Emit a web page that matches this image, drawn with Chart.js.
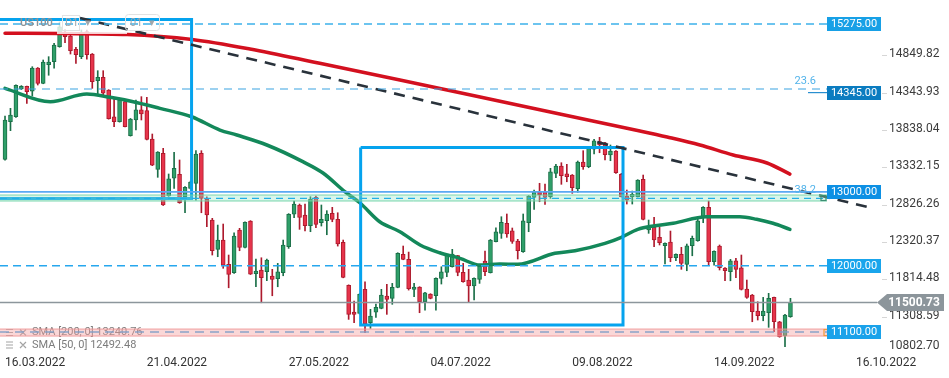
<!DOCTYPE html>
<html>
<head>
<meta charset="utf-8">
<script src="https://cdn.jsdelivr.net/npm/chart.js@4.4.0/dist/chart.umd.min.js"></script>
<style>
  html, body { margin: 0; padding: 0; background: #fff; }
  canvas { display: block; }
</style>
</head>
<body>
<canvas id="chart" width="949" height="378"></canvas>
<script>
// ---- data (daily US100 candles) ----
var opens = [
  13441, 13951, 14018, 14394, 14431, 14363, 14679, 14471, 14723, 14764,
  14967, 15149, 15112, 14932, 14832, 15171, 14868, 14506, 14552, 14380,
  14018, 13951, 14222, 13761, 13974, 14110, 14100, 13716, 13305, 13522,
  12944, 13184, 13238, 12934, 13048, 13116, 13522, 12899, 12618, 12221,
  12347, 12018, 11904, 12483, 12248, 12605, 11890, 11941, 11917, 11859,
  11823, 11904, 12256, 12696, 12822, 12686, 12541, 12926, 12582, 12609,
  12709, 12628, 12316, 11733, 11371, 11354, 11679, 11226, 11371, 11421,
  11588, 11557, 11706, 12154, 12086, 11679, 11710, 11511, 11615, 11592,
  11828, 11909, 11985, 12135, 11909, 11805, 11724, 11815, 12062, 11904,
  12324, 12438, 12573, 12473, 12333, 12188, 12582, 12926, 12998, 13002,
  12934, 13251, 13350, 13246, 13228, 13043, 13404, 13341, 13577, 13680,
  13666, 13499, 13554, 13238, 12944, 12934, 12934, 13170, 12483, 12519,
  12384, 12270, 12320, 12107, 12153, 12018, 12270, 12338, 12655, 12790,
  12053, 12266, 11968, 11917, 12066, 11972, 11683, 11602, 11385, 11321,
  11362, 11570, 11240, 11050, 11308
];
var highs = [
  14028, 14132, 14450, 14440, 14435, 14696, 14685, 14787, 14832, 15013,
  15302, 15200, 15130, 14959, 15194, 15194, 14875, 14642, 14642, 14385,
  14268, 14268, 14245, 13995, 14245, 14290, 14281, 13784, 13545, 13590,
  13242, 13536, 13432, 13070, 13145, 13558, 13558, 12934, 12641, 12550,
  12564, 12144, 12446, 12506, 12595, 12610, 12090, 12107, 12090, 11950,
  12031, 12347, 12705, 12876, 12835, 12835, 12934, 12943, 12822, 12745,
  12790, 12717, 12347, 11740, 11520, 11620, 11782, 11408, 11480, 11679,
  11747, 11760, 12175, 12266, 12184, 11760, 11715, 11640, 11620, 11835,
  11985, 12150, 12221, 12140, 12031, 11950, 11835, 12000, 12198, 12355,
  12514, 12663, 12700, 12510, 12357, 12700, 12950, 13025, 13116, 13106,
  13319, 13373, 13395, 13373, 13235, 13418, 13558, 13612, 13712, 13739,
  13670, 13635, 13560, 13251, 13025, 13011, 13165, 13228, 12618, 12655,
  12519, 12310, 12469, 12160, 12248, 12293, 12401, 12663, 12800, 12876,
  12200, 12280, 11975, 12085, 12099, 12144, 11805, 11610, 11511, 11570,
  11625, 11575, 11245, 11340, 11557
];
var lows = [
  13430, 13829, 14010, 14385, 14200, 14299, 14448, 14465, 14580, 14675,
  14960, 15022, 14868, 14742, 14805, 14797, 14403, 14326, 14313, 13985,
  13883, 13945, 13880, 13755, 13838, 13974, 13705, 13355, 13197, 12815,
  12940, 13048, 12845, 12717, 13040, 12889, 12717, 12527, 12144, 12121,
  11964, 11700, 11895, 12202, 12240, 11880, 11714, 11497, 11795, 11592,
  11714, 11863, 12234, 12650, 12492, 12469, 12460, 12514, 12537, 12419,
  12595, 12265, 11835, 11272, 11226, 11345, 11091, 11150, 11299, 11415,
  11340, 11476, 11700, 12080, 11669, 11579, 11362, 11398, 11550, 11398,
  11751, 11850, 11980, 11863, 11775, 11511, 11534, 11760, 11863, 11900,
  12320, 12370, 12384, 12302, 12090, 12180, 12460, 12763, 12866, 12831,
  12912, 13192, 13102, 13137, 12980, 12994, 13305, 13327, 13513, 13530,
  13432, 13422, 13251, 12930, 12835, 12835, 12930, 12620, 12438, 12256,
  12280, 12022, 12053, 12067, 11950, 11931, 12134, 12330, 12582, 12008,
  12008, 11941, 11795, 11795, 11836, 11670, 11557, 11240, 11263, 11253,
  11164, 11104, 11030, 10901, 11300
];
var closes = [
  13974, 14042, 14444, 14431, 14357, 14679, 14471, 14760, 14760, 14990,
  15238, 15103, 14913, 14859, 15153, 14859, 14493, 14552, 14336, 13991,
  13951, 14245, 13883, 13987, 14110, 14055, 13712, 13360, 13540, 12822,
  13178, 13319, 12853, 13062, 13133, 13513, 12912, 12686, 12202, 12347,
  12008, 11882, 12401, 12248, 12587, 11886, 11927, 11836, 12076, 11815,
  11917, 12279, 12696, 12835, 12655, 12541, 12903, 12560, 12628, 12700,
  12628, 12293, 11842, 11340, 11340, 11611, 11209, 11317, 11435, 11602,
  11543, 11706, 12167, 12086, 11687, 11710, 11511, 11633, 11557, 11828,
  11917, 12144, 12158, 11909, 11782, 11724, 11828, 11995, 11917, 12347,
  12460, 12587, 12429, 12330, 12202, 12609, 12944, 13002, 12957, 12926,
  13273, 13350, 13219, 13205, 13056, 13404, 13341, 13590, 13693, 13635,
  13504, 13554, 13259, 12934, 12889, 12966, 13160, 12628, 12519, 12347,
  12311, 12302, 12107, 12153, 12031, 12270, 12370, 12609, 12790, 12053,
  12194, 11972, 11931, 12066, 11950, 11679, 11570, 11375, 11321, 11385,
  11557, 11240, 11036, 11331, 11501
];

// moving averages, sampled along the drawn curves (x = bar number)
var sma50Idx = [0, 8.3, 15, 19.3, 23.5, 28.4, 34.2, 39.4, 42.5, 48, 54.6, 58.3, 62.3, 65.1, 68.7,
  72.4, 76.1, 79.7, 83.4, 87.1, 90.7, 94, 100.8, 104.5, 110, 113, 116, 119.2, 122.5, 128.6,
  134.7, 137.8, 140.8, 143.9];
var sma50Val = [14403, 14222, 14326, 14281, 14222, 14132, 14018, 13838, 13770, 13635, 13409, 13255, 13002, 12849, 12595,
  12460, 12280, 12175, 12099, 12008, 12022, 12018, 12167, 12202, 12302, 12384, 12492, 12541, 12574, 12663,
  12663, 12628, 12574, 12492];
var sma200Idx = [0, 10.1, 22.4, 34.3, 44.9, 57.7, 72.4, 87.1, 101.7, 116.4, 121.4, 127.4, 133.5, 139.7, 143.9];
var sma200Val = [15149, 15145, 15133, 15065, 14936, 14742, 14516, 14286, 14055, 13825, 13743, 13635, 13499, 13391, 13241];
var smaLegend = ['SMA [200, 0] 13240.76', 'SMA [50, 0] 12492.48'];

// drawings
var trendIdx = [13.75, 158.2];
var trendVal = [15356, 12794];
var box1Idx = [-3, 34.2];
var box1Val = [15336, 12910];
var box2Idx = [65.2, 113.3];
var box2Val = [13601, 11195];
var priceLevels = [15275, 14345, 13000, 12000, 11100];
var fibLevels = [14394, 12912];
var fibLabels = ['23.6', '38.2'];
var greenZone = [12957, 12876];
var redZone = [11141, 11046];
var lastPrice = 11500.73;

// axes
var tickIndex = [0, 26, 52, 78, 104, 130, 156];
var tickDates = ['16.03.2022', '21.04.2022', '27.05.2022', '04.07.2022', '09.08.2022', '14.09.2022', '16.10.2022'];
var yTicks = [14849.82, 14343.93, 13838.04, 13332.15, 12826.26, 12320.37, 11814.48, 11308.59, 10802.70];

// ---- styling ----
var FONT   = 'Roboto, "Noto Sans", sans-serif';
var GREEN  = '#2f9f69', GREEN_D = '#1b6f48';
var RED    = '#e6344b', RED_D   = '#ad1a2d';
var BOX    = '#05a3ee';

function isUp(i) { return closes[i] >= opens[i]; }
function pts(xs, ys) { return xs.map(function (x, k) { return { x: x, y: ys[k] }; }); }
function rect(xs, ys) {
  return [
    { x: xs[0], y: ys[0] }, { x: xs[1], y: ys[0] },
    { x: xs[1], y: ys[1] }, { x: xs[0], y: ys[1] }, { x: xs[0], y: ys[0] }
  ];
}

var wickData = lows.map(function (l, i) { return { x: i, y: [l, highs[i]] }; });
var bodyData = opens.map(function (o, i) { return { x: i, y: [o, closes[i]] }; });

// faint toolbar box over the averages, drawn between layers
function drawToolbarShade(chart) {
  var c = chart.ctx;
  c.save();
  c.fillStyle = 'rgba(255,255,255,0.8)';
  c.fillRect(57, 9, 70, 25);
  c.restore();
}

var decor = {
  id: 'decor',
  afterDatasetDraw: function (chart, args) {
    if (args.index === 3) drawToolbarShade(chart);
  },
  afterDatasetsDraw: function (chart) {
    var c = chart.ctx, a = chart.chartArea, ys = chart.scales.y;
    var badgeL = a.right - 54;
    function py(v) { return ys.getPixelForValue(v); }
    function hline(v, x0, x1, color, w, dash) {
      var y = py(v);
      c.beginPath();
      c.setLineDash(dash || []);
      c.strokeStyle = color;
      c.lineWidth = w;
      c.moveTo(x0, y);
      c.lineTo(x1, y);
      c.stroke();
      c.setLineDash([]);
    }
    function zone(v0, v1, fill, edge) {
      var y0 = py(v0), y1 = py(v1);
      c.fillStyle = fill;
      c.fillRect(a.left, y0, badgeL - a.left, y1 - y0);
      c.strokeStyle = edge;
      c.lineWidth = 1;
      c.beginPath();
      c.moveTo(a.left, y0); c.lineTo(badgeL, y0);
      c.moveTo(a.left, y1); c.lineTo(badgeL, y1);
      c.stroke();
    }

    c.save();

    // SMA legend (sits under the red zone)
    c.font = '11px ' + FONT;
    c.textAlign = 'left';
    c.textBaseline = 'middle';
    smaLegend.forEach(function (t, k) {
      var y = a.bottom - 21.5 + k * 12.5;
      c.strokeStyle = '#a3a3a3';
      c.lineWidth = 1.2;
      c.beginPath();
      for (var j = -1; j <= 1; j++) { c.moveTo(6, y + j * 3); c.lineTo(13, y + j * 3); }
      c.moveTo(20, y - 3); c.lineTo(26, y + 3);
      c.moveTo(26, y - 3); c.lineTo(20, y + 3);
      c.stroke();
      c.fillStyle = '#7c7c7c';
      c.fillText(t, 32, y);
    });

    // zones
    zone(greenZone[0], greenZone[1], 'rgba(150,228,195,0.35)', 'rgba(110,210,165,0.9)');
    zone(redZone[0], redZone[1], 'rgba(244,160,160,0.42)', 'rgba(240,150,150,0.9)');

    // horizontal levels
    hline(priceLevels[0], a.left, badgeL, '#3db1ea', 1.3, [8, 5]);
    hline(fibLevels[0], a.left, badgeL, '#3aa3e2', 1.2, [8, 6]);
    hline(priceLevels[1], badgeL - 19, badgeL, '#2a8fd0', 1.2);
    hline(priceLevels[2], a.left, badgeL, '#5aa9f2', 1.6);
    hline(fibLevels[1], a.left, badgeL, '#22aee8', 1.3, [7, 5]);
    hline(priceLevels[3], a.left, badgeL, '#27a7ee', 1.5, [8, 5]);
    hline(priceLevels[4], a.left, badgeL, 'rgba(125,158,200,0.9)', 1.5, [9, 6]);
    hline(lastPrice, a.left, a.right - 4, '#8c969c', 1.3);

    // fibonacci labels
    c.font = '11px ' + FONT;
    c.fillStyle = '#52b3ea';
    c.textAlign = 'right';
    c.textBaseline = 'alphabetic';
    fibLevels.forEach(function (v, k) {
      c.fillText(fibLabels[k], badgeL - 11, py(v) - 5);
    });

    // small end markers
    c.strokeStyle = '#f29a3a';
    c.lineWidth = 1.2;
    c.strokeRect(badgeL - 3, py(redZone[0]) + 0.5, 4, py(redZone[1]) - py(redZone[0]) - 1);
    c.strokeStyle = '#3d8f73';
    c.strokeRect(badgeL - 6, py(greenZone[0]) + 0.5, 5, py(greenZone[1]) - py(greenZone[0]) - 1);

    c.restore();
  },
  afterDraw: function (chart) {
    var c = chart.ctx, a = chart.chartArea, ys = chart.scales.y;
    var badgeL = a.right - 54;
    var badgeColors = ['#17a0e6', '#0b7cc0', '#0d90e4', '#19a5ec', '#1aa2ea'];
    c.save();

    // level badges
    c.font = '11px ' + FONT;
    c.textAlign = 'center';
    c.textBaseline = 'middle';
    priceLevels.forEach(function (v, k) {
      var y = ys.getPixelForValue(v);
      c.fillStyle = badgeColors[k];
      c.fillRect(badgeL, Math.round(y) - 7, 54, 14);
      c.fillStyle = '#ffffff';
      c.fillText(v.toFixed(2), badgeL + 27, Math.round(y) + 0.5);
    });

    // y-axis labels (bottom one kept inside the canvas)
    c.font = '12px ' + FONT;
    c.textAlign = 'left';
    yTicks.forEach(function (v) {
      var y = ys.getPixelForValue(v);
      var ly = Math.min(y, a.bottom - 7);
      if (ly === y) {
        c.strokeStyle = '#d6d6d6';
        c.lineWidth = 1;
        c.beginPath();
        c.moveTo(a.right + 1, Math.round(y) + 0.5);
        c.lineTo(a.right + 6, Math.round(y) + 0.5);
        c.stroke();
      }
      c.fillStyle = '#3c3c3c';
      c.fillText(v.toFixed(2), a.right + 8, ly - 1);
    });

    // last price tag
    var yp = ys.getPixelForValue(lastPrice);
    c.fillStyle = '#8c959b';
    c.beginPath();
    c.moveTo(a.right - 4, yp);
    c.lineTo(a.right + 6, yp - 8.5);
    c.lineTo(a.right + 63, yp - 8.5);
    c.lineTo(a.right + 63, yp + 8.5);
    c.lineTo(a.right + 6, yp + 8.5);
    c.closePath();
    c.fill();
    c.fillStyle = '#ffffff';
    c.font = 'bold 12px ' + FONT;
    c.textAlign = 'center';
    c.fillText(lastPrice.toFixed(2), a.right + 33, yp + 0.5);

    // instrument toolbar
    c.textAlign = 'left';
    c.font = '600 11px ' + FONT;
    c.fillStyle = '#8d9398';
    c.fillText('US100', 20, 23.5);
    c.strokeStyle = '#e2e2e2';
    c.lineWidth = 1;
    c.strokeRect(62.5, 15.5, 17, 15);
    c.font = '11px ' + FONT;
    c.fillStyle = '#a2a7ab';
    c.fillText('D1', 65, 23.5);
    c.fillText('\u25BE', 85, 23.5);
    c.beginPath();
    c.moveTo(128.5, 14.5); c.lineTo(156.5, 14.5);
    c.quadraticCurveTo(159.5, 14.5, 159.5, 17.5);
    c.lineTo(159.5, 27.5);
    c.quadraticCurveTo(159.5, 30.5, 156.5, 30.5);
    c.lineTo(128.5, 30.5);
    c.quadraticCurveTo(125.5, 30.5, 125.5, 27.5);
    c.lineTo(125.5, 17.5);
    c.quadraticCurveTo(125.5, 14.5, 128.5, 14.5);
    c.stroke();
    c.fillText('01', 130, 23.5);
    c.fillText('\u25BE', 149, 23.5);

    c.restore();
  }
};

new Chart(document.getElementById('chart'), {
  type: 'bar',
  plugins: [decor],
  data: {
    datasets: [
      {
        type: 'bar',
        label: 'wick',
        data: wickData,
        order: 10,
        grouped: false,
        barThickness: 1,
        backgroundColor: function (ctx) { return isUp(ctx.dataIndex) ? GREEN_D : RED_D; },
        borderWidth: 0
      },
      {
        type: 'bar',
        label: 'body',
        data: bodyData,
        order: 9,
        grouped: false,
        barThickness: 4,
        borderWidth: 1,
        borderSkipped: false,
        backgroundColor: function (ctx) { return isUp(ctx.dataIndex) ? GREEN : RED; },
        borderColor: function (ctx) { return isUp(ctx.dataIndex) ? GREEN_D : RED_D; }
      },
      {
        type: 'line',
        label: 'SMA 50',
        data: pts(sma50Idx, sma50Val),
        order: 8,
        borderColor: '#13885a',
        borderWidth: 3.5,
        pointRadius: 0,
        cubicInterpolationMode: 'monotone',
        borderCapStyle: 'round'
      },
      {
        type: 'line',
        label: 'SMA 200',
        data: pts(sma200Idx, sma200Val),
        order: 7,
        borderColor: '#d3101f',
        borderWidth: 3.5,
        pointRadius: 0,
        cubicInterpolationMode: 'monotone',
        borderCapStyle: 'round'
      },
      {
        type: 'line',
        label: 'box 1',
        data: rect(box1Idx, box1Val),
        order: 3,
        borderColor: BOX,
        borderWidth: 3,
        pointRadius: 0,
        tension: 0,
        borderJoinStyle: 'miter'
      },
      {
        type: 'line',
        label: 'box 2',
        data: rect(box2Idx, box2Val),
        order: 3,
        borderColor: BOX,
        borderWidth: 3,
        pointRadius: 0,
        tension: 0,
        borderJoinStyle: 'miter'
      },
      {
        type: 'line',
        label: 'trend',
        data: pts(trendIdx, trendVal),
        order: 2,
        borderColor: '#29323b',
        borderWidth: 2.6,
        borderDash: [11, 8],
        pointRadius: 0
      }
    ]
  },
  options: {
    responsive: false,
    animation: false,
    events: [],
    layout: { padding: 0 },
    plugins: { legend: { display: false }, tooltip: { enabled: false } },
    scales: {
      x: {
        type: 'linear',
        min: -0.92,
        max: 160.6,
        offset: false,
        afterBuildTicks: function (s) { s.ticks = tickIndex.map(function (v) { return { value: v }; }); },
        afterFit: function (s) { s.height = 24; },
        grid: { display: false, offset: false },
        border: { display: false },
        ticks: {
          align: 'start',
          autoSkip: false,
          maxRotation: 0,
          padding: -6,
          color: '#333333',
          font: { family: FONT, size: 12 },
          callback: function (v) {
            var k = tickIndex.indexOf(v);
            return k >= 0 ? tickDates[k] : '';
          }
        }
      },
      y: {
        type: 'linear',
        position: 'right',
        min: 10802.70,
        max: 15600,
        afterBuildTicks: function (s) { s.ticks = yTicks.map(function (v) { return { value: v }; }); },
        afterFit: function (s) { s.width = 68; },
        grid: { display: false },
        border: { display: false },
        ticks: { display: false }
      }
    }
  }
});
</script>
</body>
</html>
